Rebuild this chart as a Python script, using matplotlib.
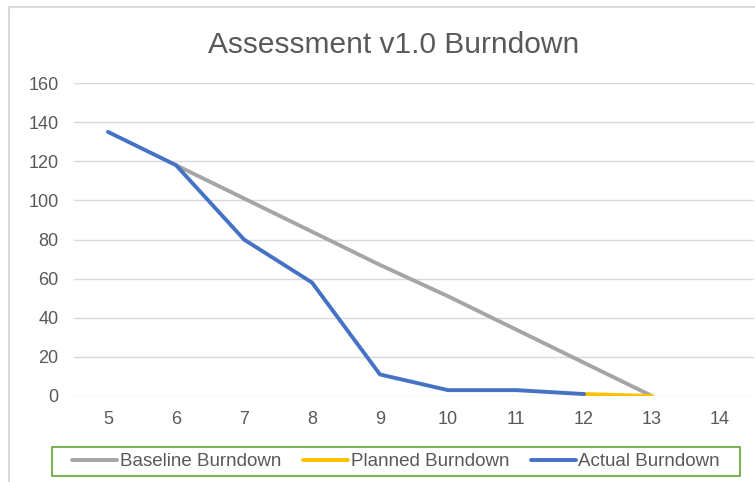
import matplotlib.pyplot as plt
from matplotlib.patches import Rectangle

# Chart data
weeks = [5, 6, 7, 8, 9, 10, 11, 12, 13, 14]
baseline_weeks = [6, 7, 8, 9, 10, 11, 12, 13]
baseline = [118, 101, 84, 67, 51, 34, 17, 0]
planned_weeks = [12, 13]
planned = [1, 0]
actual_weeks = [5, 6, 7, 8, 9, 10, 11, 12]
actual = [135, 118, 80, 58, 11, 3, 3, 1]

plt.rcParams['font.family'] = ['Liberation Sans', 'DejaVu Sans']

text_col = '#595959'
W, H = 755, 482
fig = plt.figure(figsize=(W / 100, H / 100), dpi=100)

# outer chart frame (cropped at right/bottom)
fig.patches.append(Rectangle((9 / W, -0.1), 1.2, 1 - 7 / H + 0.1, transform=fig.transFigure,
                             fill=False, edgecolor='#d9d9d9', linewidth=1.5))

ax = fig.add_axes([74 / W, (H - 396) / H, (754 - 74) / W, (396 - 83) / H])
xpos = {w: i for i, w in enumerate(weeks)}

ax.plot([xpos[w] for w in baseline_weeks], baseline, color='#a5a5a5', lw=2.8,
        solid_capstyle='round', label='Baseline Burndown', zorder=3)
ax.plot([xpos[w] for w in planned_weeks], planned, color='#ffc000', lw=2.8,
        solid_capstyle='round', label='Planned Burndown', zorder=4)
ax.plot([xpos[w] for w in actual_weeks], actual, color='#4472c4', lw=2.8,
        solid_capstyle='round', label='Actual Burndown', zorder=5)

ax.set_xlim(-0.5, len(weeks) - 0.5)
ax.set_ylim(0, 160)
ax.set_yticks(range(0, 161, 20))
ax.set_xticks(range(len(weeks)))
ax.set_xticklabels([str(w) for w in weeks])
ax.yaxis.grid(True, color='#d9d9d9', lw=1)
ax.set_axisbelow(True)
for s in ax.spines.values():
    s.set_visible(False)
ax.tick_params(length=0, labelsize=13, colors=text_col)
ax.tick_params(axis='x', pad=11)
ax.tick_params(axis='y', pad=11)

fig.text(394 / W, 1 - 45 / H, 'Assessment v1.0 Burndown', ha='center', va='center',
         fontsize=21.5, color=text_col)

# legend with a green box drawn separately
fig.patches.append(Rectangle((52 / W, 1 - 476 / H), (740 - 52) / W, 29 / H,
                             transform=fig.transFigure, fill=False,
                             edgecolor='#70ad47', linewidth=1.3))
leg = fig.legend(loc='center', bbox_to_anchor=(396 / W, 1 - 461.5 / H), ncol=3,
                 frameon=False, fontsize=13.5, handlelength=2.4,
                 handletextpad=0.15, columnspacing=1.15)
for t in leg.get_texts():
    t.set_color(text_col)

fig.savefig('out.png', dpi=100)
